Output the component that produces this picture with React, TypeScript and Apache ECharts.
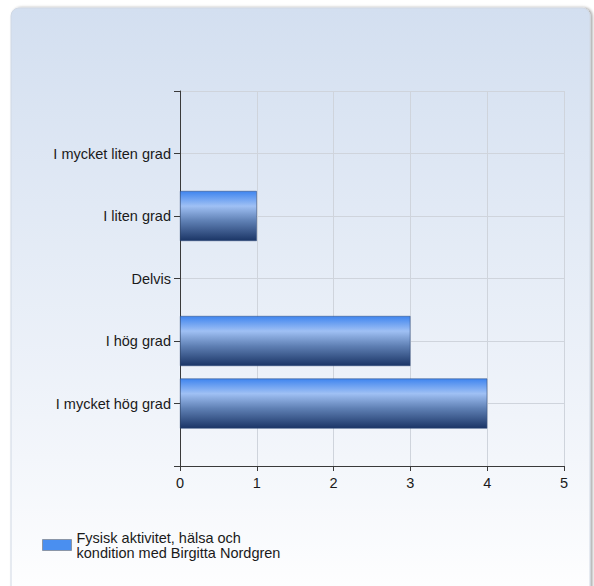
import React, { useEffect, useRef } from "react";
import * as echarts from "echarts";

const categories = ["", "I mycket hög grad", "I hög grad", "Delvis", "I liten grad", "I mycket liten grad", ""];
const values = [null, 4, 3, 0, 1, 0, null];
const xTicks = [0, 1, 2, 3, 4, 5];
const seriesName = "Fysisk aktivitet, hälsa och kondition med Birgitta Nordgren";

export default function App() {
  const ref = useRef<HTMLDivElement>(null);
  useEffect(() => {
    if (!ref.current) return;
    const chart = echarts.init(ref.current, null, { renderer: "svg" });
    const font = "Liberation Sans, Arial, sans-serif";
    const fs = 14.5;
    const barData = values.map((v) =>
      v === 0 ? { value: 0, itemStyle: { borderWidth: 0, opacity: 0 } } : v
    );
    chart.setOption({
      animation: false,
      graphic: [
        {
          type: "rect",
          shape: { x: 11, y: 8, width: 579, height: 600, r: 8 },
          style: {
            fill: new echarts.graphic.LinearGradient(0, 0, 0, 1, [
              { offset: 0, color: "#d3dff0" },
              { offset: 0.75, color: "#f3f6fb" },
              { offset: 1, color: "#ffffff" },
            ]),
            stroke: "#d0d8e4",
            lineWidth: 1,
            shadowColor: "rgba(0,0,0,0.35)",
            shadowBlur: 3,
            shadowOffsetX: 2,
            shadowOffsetY: 0,
          },
          z: -10,
        },
      ],
      grid: { left: 180, right: 30, top: 91, bottom: 120, containLabel: false },
      legend: {
        left: 37,
        top: 525,
        itemWidth: 29,
        itemHeight: 11,
        icon: "rect",
        data: [
          {
            name: seriesName,
            itemStyle: { color: "#4a8ff0", borderColor: "#8a96a8", borderWidth: 1 },
          },
        ],
        formatter: () => "Fysisk aktivitet, hälsa och\nkondition med Birgitta Nordgren",
        textStyle: { fontFamily: font, fontSize: fs, color: "#1a1a1a", lineHeight: 15 },
        itemGap: 8,
      },
      xAxis: {
        type: "value",
        min: 0,
        max: 5,
        interval: 1,
        axisLine: { show: true, lineStyle: { color: "#3a3a3a", width: 1 } },
        axisTick: { show: true, length: 5, lineStyle: { color: "#3a3a3a" } },
        axisLabel: {
          fontFamily: font,
          fontSize: fs,
          color: "#1a1a1a",
          margin: 9,
          formatter: (v: number) => (xTicks.includes(v) ? String(v) : ""),
        },
        splitLine: { show: true, lineStyle: { color: "#cfd4dc", width: 1 } },
      },
      yAxis: {
        type: "category",
        data: categories,
        boundaryGap: false,
        axisLine: { show: true, lineStyle: { color: "#3a3a3a", width: 1 } },
        axisTick: { show: true, length: 6, interval: 0, lineStyle: { color: "#3a3a3a" } },
        axisLabel: { fontFamily: font, fontSize: fs, color: "#1a1a1a", margin: 9, interval: 0 },
        splitLine: { show: true, interval: 0, lineStyle: { color: "#cfd4dc", width: 1 } },
      },
      series: [
        {
          name: seriesName,
          type: "bar",
          data: barData,
          barWidth: 50,
          itemStyle: {
            color: new echarts.graphic.LinearGradient(0, 0, 0, 1, [
              { offset: 0, color: "#3f85ef" },
              { offset: 0.3, color: "#9fc0f4" },
              { offset: 0.6, color: "#5f80b4" },
              { offset: 1, color: "#1b3566" },
            ]),
            borderColor: "#2a4676",
            borderWidth: 0.5,
          },
        },
      ],
    });
    return () => chart.dispose();
  }, []);
  return (
    <div
      ref={ref}
      style={{ position: "fixed", left: 0, top: 0, width: 594, height: 586, background: "#ffffff" }}
    />
  );
}
